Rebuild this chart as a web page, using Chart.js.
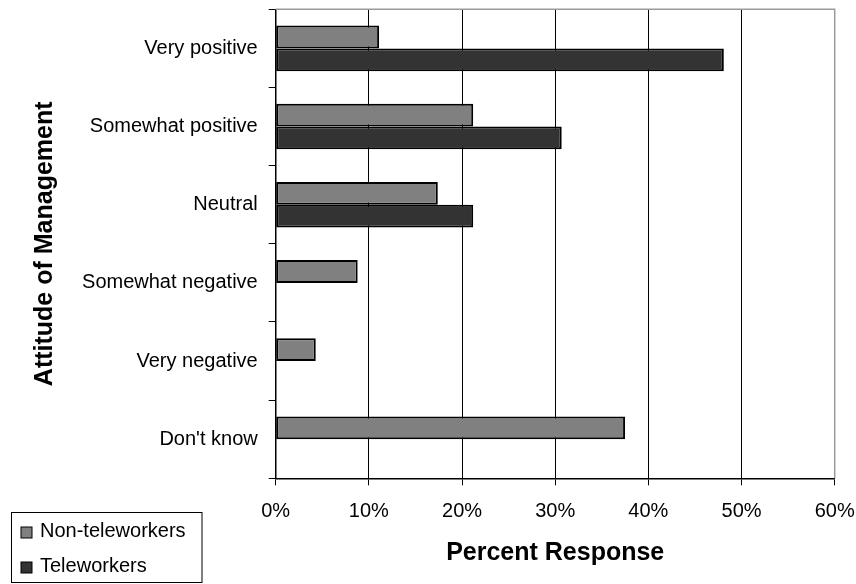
<!DOCTYPE html>
<html>
<head>
<meta charset="utf-8">
<title>Attitude of Management</title>
<script src="https://cdn.jsdelivr.net/npm/chart.js@4/dist/chart.umd.min.js"></script>
<style>
  html, body { margin: 0; padding: 0; background: #fff; }
  #wrap { width: 856px; height: 584px; }
</style>
</head>
<body>
<div id="wrap"><canvas id="chart" width="856" height="584"></canvas></div>
<script>
// Survey answers, percent of respondents
const categories = ["Very positive", "Somewhat positive", "Neutral", "Somewhat negative", "Very negative", "Don't know"];
const nonTeleworkers = [11.1, 21.2, 17.4, 8.8, 4.3, 37.5];
const teleworkers = [48.1, 30.7, 21.2, 0, 0, 0];
const xTicks = [0, 10, 20, 30, 40, 50, 60];

const FONT = "'Liberation Sans', Arial, Helvetica, sans-serif";

// keep the plot box where we put it, no extra room for edge labels
function noEdgePadding(scale) {
  scale.paddingTop = 0;
  scale.paddingBottom = 0;
  scale.paddingLeft = 0;
  scale.paddingRight = 0;
}

// grey frame on top/right of the plot
const plotFrame = {
  id: 'plotFrame',
  beforeDatasetsDraw(chart) {
    const { ctx, chartArea: a } = chart;
    ctx.save();
    ctx.strokeStyle = '#9a9a9a';
    ctx.lineWidth = 1.5;
    ctx.beginPath();
    ctx.moveTo(a.left, a.top);
    ctx.lineTo(a.right, a.top);
    ctx.lineTo(a.right, a.bottom);
    ctx.stroke();
    ctx.restore();
  }
};

// boxed legend in the bottom-left corner
const boxLegend = {
  id: 'boxLegend',
  afterDraw(chart) {
    const ctx = chart.ctx;
    ctx.save();
    ctx.strokeStyle = '#000';
    ctx.lineWidth = 1;
    ctx.strokeRect(11.5, 512.5, 190.5, 70);
    ctx.font = '20px ' + FONT;
    ctx.textBaseline = 'middle';
    ctx.textAlign = 'left';
    chart.data.datasets.forEach((ds, i) => {
      const y = 531 + i * 35;
      ctx.fillStyle = ds.backgroundColor;
      ctx.fillRect(21, y - 4, 11, 11);
      ctx.strokeStyle = '#000';
      ctx.strokeRect(21, y - 4, 11, 11);
      ctx.fillStyle = '#000';
      ctx.fillText(ds.label, 40, y);
    });
    ctx.restore();
  }
};

new Chart(document.getElementById('chart'), {
  type: 'bar',
  data: {
    labels: categories,
    datasets: [
      {
        label: 'Non-teleworkers',
        data: nonTeleworkers,
        backgroundColor: '#808080',
        borderColor: '#000',
        borderWidth: 2,
        borderSkipped: false
      },
      {
        label: 'Teleworkers',
        data: teleworkers,
        backgroundColor: '#333333',
        borderColor: '#000',
        borderWidth: 2,
        borderSkipped: false
      }
    ]
  },
  options: {
    indexAxis: 'y',
    responsive: false,
    animation: false,
    events: [],
    categoryPercentage: 0.583,
    barPercentage: 1.0,
    layout: { padding: { top: 9.3, right: 21.3, bottom: 0, left: 0 } },
    plugins: {
      legend: { display: false },
      tooltip: { enabled: false }
    },
    scales: {
      x: {
        min: 0,
        max: 60,
        afterBuildTicks(scale) {
          scale.ticks = xTicks.map(v => ({ value: v }));
        },
        afterFit(scale) {
          scale.height = 105.7;
          noEdgePadding(scale);
        },
        grid: {
          color: '#000',
          lineWidth: 1,
          tickLength: 7,
          tickColor: '#000'
        },
        border: { color: '#000', width: 1.5 },
        ticks: {
          color: '#000',
          font: { family: FONT, size: 20 },
          padding: 14,
          maxRotation: 0,
          callback: v => v + '%'
        },
        title: {
          display: true,
          text: 'Percent Response',
          color: '#000',
          font: { family: FONT, size: 25, weight: 'bold' },
          padding: { top: 0, bottom: 16 }
        }
      },
      y: {
        afterFit(scale) {
          scale.width = 275.7;
          noEdgePadding(scale);
        },
        grid: {
          drawOnChartArea: false,
          offset: true,
          tickLength: 7,
          tickColor: '#000'
        },
        border: { color: '#000', width: 1.5 },
        ticks: {
          color: '#000',
          font: { family: FONT, size: 20 },
          padding: 11
        },
        title: {
          display: true,
          text: 'Attitude of Management',
          color: '#000',
          font: { family: FONT, size: 25, weight: 'bold' },
          padding: { top: 30, bottom: 0 }
        }
      }
    }
  },
  plugins: [plotFrame, boxLegend]
});
</script>
</body>
</html>
